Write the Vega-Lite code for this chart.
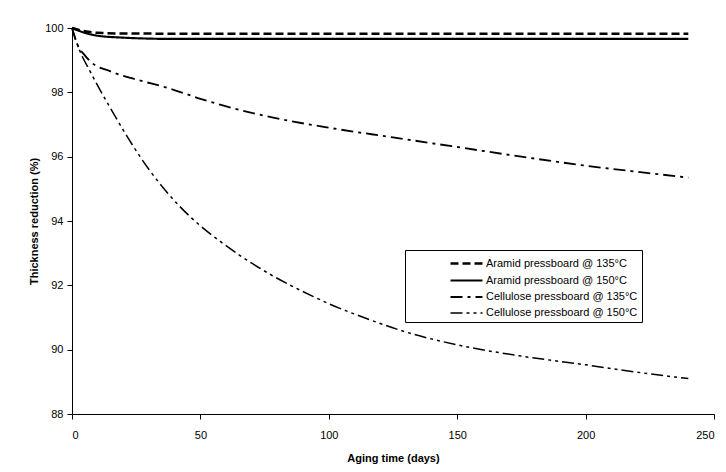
{
  "$schema": "https://vega.github.io/schema/vega-lite/v6.json",
  "autosize": "none",
  "width": 642,
  "height": 386,
  "padding": {"left": 72, "top": 28, "right": 12, "bottom": 58},
  "background": "white",
  "config": {
    "view": {"stroke": null},
    "font": "Liberation Sans",
    "axis": {
      "grid": false,
      "domainColor": "black",
      "tickColor": "black",
      "domainWidth": 1,
      "tickWidth": 1,
      "labelColor": "black",
      "titleColor": "black",
      "labelFontSize": 11,
      "titleFontSize": 11,
      "titleFontWeight": "bold",
      "labelFont": "Liberation Sans",
      "titleFont": "Liberation Sans"
    }
  },
  "data": {
    "values": [
      {"series": "Aramid pressboard @ 135°C", "day": 0, "value": 100},
      {"series": "Aramid pressboard @ 135°C", "day": 5, "value": 99.9},
      {"series": "Aramid pressboard @ 135°C", "day": 10, "value": 99.85},
      {"series": "Aramid pressboard @ 135°C", "day": 20, "value": 99.83},
      {"series": "Aramid pressboard @ 135°C", "day": 60, "value": 99.82},
      {"series": "Aramid pressboard @ 135°C", "day": 240, "value": 99.82},
      {"series": "Aramid pressboard @ 150°C", "day": 0, "value": 100},
      {"series": "Aramid pressboard @ 150°C", "day": 5, "value": 99.85},
      {"series": "Aramid pressboard @ 150°C", "day": 10, "value": 99.76},
      {"series": "Aramid pressboard @ 150°C", "day": 20, "value": 99.7},
      {"series": "Aramid pressboard @ 150°C", "day": 30, "value": 99.67},
      {"series": "Aramid pressboard @ 150°C", "day": 40, "value": 99.66},
      {"series": "Aramid pressboard @ 150°C", "day": 240, "value": 99.66},
      {"series": "Cellulose pressboard @ 135°C", "day": 0, "value": 100},
      {"series": "Cellulose pressboard @ 135°C", "day": 2, "value": 99.5},
      {"series": "Cellulose pressboard @ 135°C", "day": 5, "value": 99.15},
      {"series": "Cellulose pressboard @ 135°C", "day": 7, "value": 98.97},
      {"series": "Cellulose pressboard @ 135°C", "day": 15, "value": 98.65},
      {"series": "Cellulose pressboard @ 135°C", "day": 25, "value": 98.4},
      {"series": "Cellulose pressboard @ 135°C", "day": 38, "value": 98.12},
      {"series": "Cellulose pressboard @ 135°C", "day": 50, "value": 97.8},
      {"series": "Cellulose pressboard @ 135°C", "day": 58, "value": 97.61},
      {"series": "Cellulose pressboard @ 135°C", "day": 75, "value": 97.27},
      {"series": "Cellulose pressboard @ 135°C", "day": 100, "value": 96.9},
      {"series": "Cellulose pressboard @ 135°C", "day": 125, "value": 96.6},
      {"series": "Cellulose pressboard @ 135°C", "day": 150, "value": 96.3},
      {"series": "Cellulose pressboard @ 135°C", "day": 175, "value": 96.0},
      {"series": "Cellulose pressboard @ 135°C", "day": 200, "value": 95.72},
      {"series": "Cellulose pressboard @ 135°C", "day": 220, "value": 95.53},
      {"series": "Cellulose pressboard @ 135°C", "day": 240, "value": 95.35},
      {"series": "Cellulose pressboard @ 150°C", "day": 0, "value": 100},
      {"series": "Cellulose pressboard @ 150°C", "day": 3, "value": 99.3},
      {"series": "Cellulose pressboard @ 150°C", "day": 7, "value": 98.66},
      {"series": "Cellulose pressboard @ 150°C", "day": 15, "value": 97.5},
      {"series": "Cellulose pressboard @ 150°C", "day": 30, "value": 95.6},
      {"series": "Cellulose pressboard @ 150°C", "day": 42, "value": 94.45},
      {"series": "Cellulose pressboard @ 150°C", "day": 50, "value": 93.85},
      {"series": "Cellulose pressboard @ 150°C", "day": 58, "value": 93.35},
      {"series": "Cellulose pressboard @ 150°C", "day": 65, "value": 92.95},
      {"series": "Cellulose pressboard @ 150°C", "day": 77, "value": 92.35},
      {"series": "Cellulose pressboard @ 150°C", "day": 94, "value": 91.65},
      {"series": "Cellulose pressboard @ 150°C", "day": 100, "value": 91.43},
      {"series": "Cellulose pressboard @ 150°C", "day": 116, "value": 90.93},
      {"series": "Cellulose pressboard @ 150°C", "day": 130, "value": 90.55},
      {"series": "Cellulose pressboard @ 150°C", "day": 150, "value": 90.15},
      {"series": "Cellulose pressboard @ 150°C", "day": 175, "value": 89.8},
      {"series": "Cellulose pressboard @ 150°C", "day": 200, "value": 89.53},
      {"series": "Cellulose pressboard @ 150°C", "day": 220, "value": 89.3},
      {"series": "Cellulose pressboard @ 150°C", "day": 240, "value": 89.1}
    ]
  },
  "mark": {"type": "line", "interpolate": "monotone", "color": "black"},
  "encoding": {
    "x": {
      "field": "day", "type": "quantitative",
      "scale": {"domain": [0, 250], "nice": false},
      "axis": {"values": [0, 50, 100, 150, 200, 250], "title": "Aging time (days)", "tickSize": 5, "labelPadding": 10, "titlePadding": 12}
    },
    "y": {
      "field": "value", "type": "quantitative",
      "scale": {"domain": [88, 100], "nice": false, "zero": false},
      "axis": {"values": [88, 90, 92, 94, 96, 98, 100], "title": "Thickness reduction (%)", "tickSize": 5, "labelPadding": 4, "titlePadding": 5}
    },
    "strokeDash": {
      "field": "series", "type": "nominal",
      "scale": {
        "domain": ["Aramid pressboard @ 135°C", "Aramid pressboard @ 150°C", "Cellulose pressboard @ 135°C", "Cellulose pressboard @ 150°C"],
        "range": [[8, 4], [1, 0], [12, 5, 3, 5], [12, 4, 3, 4, 3, 4]]
      },
      "legend": {
        "title": null,
        "orient": "none",
        "legendX": 333,
        "legendY": 222,
        "strokeColor": "black",
        "fillColor": "white",
        "padding": 4,
        "symbolOffset": 48,
        "symbolType": "M-2,0H2",
        "symbolSize": 256,
        "symbolStrokeColor": "black",
        "symbolStrokeWidth": 2,
        "labelFontSize": 11,
        "labelFont": "Liberation Sans",
        "labelColor": "black",
        "rowPadding": 2,
        "labelOffset": 10
      }
    },
    "strokeWidth": {
      "field": "series", "type": "nominal",
      "scale": {
        "domain": ["Aramid pressboard @ 135°C", "Aramid pressboard @ 150°C", "Cellulose pressboard @ 135°C", "Cellulose pressboard @ 150°C"],
        "range": [2.5, 1.5, 2, 2]
      },
      "legend": null
    }
  }
}
